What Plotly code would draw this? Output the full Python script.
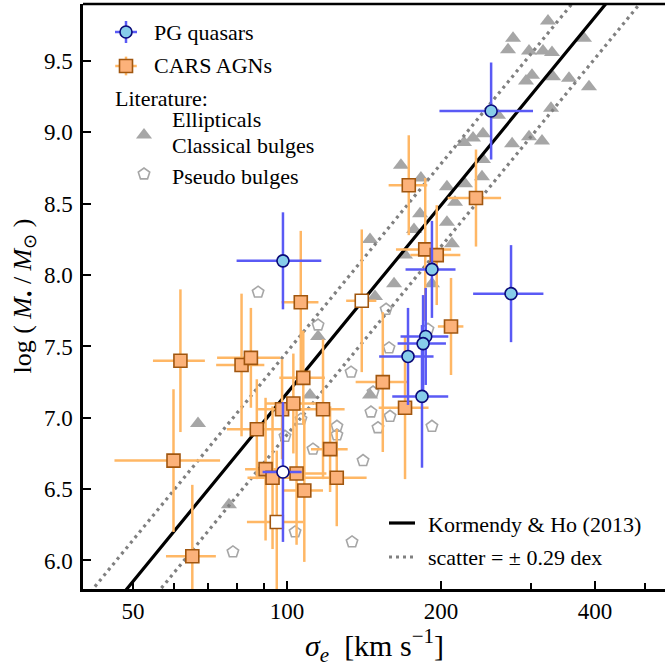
import numpy as np
import plotly.graph_objects as go

# ---------------- data ----------------
# PG quasars
pg_sigma = [250.6, 98.2, 274.1, 192.0, 186.7, 184.5, 172.4, 183.6, 98.2]
pg_sigma_err = [52, 18.5, 43, 21.5, 20, 20, 21, 23, 8.6]
pg_logm = [9.15, 8.10, 7.87, 8.04, 7.57, 7.52, 7.43, 7.15, 6.62]
pg_logm_err = [0.34, 0.34, 0.34, 0.34, 0.34, 0.34, 0.34, 0.50, 0.49]
pg_open = [False, False, False, False, False, False, False, False, True]

# CARS AGNs
cars_sigma = [61.9, 81.5, 85.0, 87.3, 60.0, 65.3, 90.8, 93.7, 97.8, 102.9, 107.6, 117.6, 121.4,
              104.4, 108.1, 125.1, 106.4, 153.9, 170.1, 209.2, 186.3, 196.2, 173.0, 234.1, 95.5, 140.0]
cars_sigma_err = [7.2, 8.8, 12, 11, 14, 7.3, 8, 10, 10, 12, 11, 12, 10,
                  15, 9.5, 18, 8.8, 17.7, 19, 12, 23, 22, 15, 28, 12, 9.5]
cars_logm = [7.40, 7.37, 7.42, 6.92, 6.70, 6.03, 6.64, 6.58, 7.06, 7.10, 7.28, 7.06, 6.78,
             6.61, 6.49, 6.58, 7.81, 7.25, 7.07, 7.64, 8.18, 8.14, 8.63, 8.54, 6.27, 7.82]
cars_logm_err = [0.5, 0.5, 0.35, 0.35, 0.5, 0.5, 0.5, 0.5, 0.35, 0.35, 0.33, 0.49, 0.3,
                 0.5, 0.5, 0.34, 0.5, 0.49, 0.5, 0.34, 0.5, 0.35, 0.35, 0.34, 0.5, 0.5]
cars_open = [False] * 24 + [True, True]

# Literature: ellipticals + classical bulges
ell_sigma = [323.7, 380.6, 276.6, 270.4, 297.2, 316.5, 329.6, 301.2, 293.2, 331.1, 355.8, 389.3,
             328.1, 258.5, 241.6, 231.0, 221.8, 275.4, 297.2, 315.1, 241.6, 240.5, 167.0, 182.7,
             205.4, 222.8, 213.0, 182.0, 205.4, 177.1, 210.1, 145.3, 170.1, 161.9, 148.6, 192.0,
             115.0, 110.9, 145.3, 67.0, 77.0]
ell_logm = [9.78, 9.66, 9.66, 9.58, 9.57, 9.57, 9.56, 9.40, 9.36, 9.39, 9.38, 9.32,
            9.17, 9.12, 8.99, 8.96, 8.93, 8.92, 8.97, 8.94, 8.81, 8.69, 8.77, 8.68,
            8.62, 8.64, 8.51, 8.43, 8.37, 8.32, 8.22, 8.25, 8.14, 7.94, 7.85, 7.94,
            7.57, 7.16, 7.16, 6.96, 6.39]

# Literature: pseudo bulges
pseudo_sigma = [87.8, 156.2, 115.0, 158.3, 133.4, 147.3, 145.9, 159.0, 150.6, 192.0, 125.2,
                125.2, 99.1, 106.5, 112.4, 140.8, 103.7, 134.0, 78.4, 188.6]
pseudo_logm = [7.88, 7.76, 7.65, 7.49, 7.32, 7.18, 7.04, 7.01, 6.93, 6.94, 6.94,
               6.88, 6.87, 6.99, 6.78, 6.70, 6.20, 6.13, 6.06, 7.62]

# Kormendy & Ho (2013) relation
kh_norm = 8.49
kh_slope = 4.38
kh_scatter = 0.29

x_ticks = [50, 100, 200, 400]
x_minor_ticks = [60, 70, 80, 90, 300, 500]
y_ticks = [6.0, 6.5, 7.0, 7.5, 8.0, 8.5, 9.0, 9.5]

# ---------------- styles ----------------
FONT = "Liberation Serif"
PG_ERR = "#5a5af5"
PG_FILL = "#87cdea"
PG_EDGE = "#0a0a78"
CARS_ERR = "#ffb765"
CARS_FILL = "#fcb27a"
CARS_EDGE = "#a0560f"
LIT = "#a6a6a6"

fig = go.Figure()

# literature
fig.add_trace(go.Scatter(x=ell_sigma, y=ell_logm, mode="markers",
                         marker=dict(symbol="triangle-up", size=14, color=LIT, line=dict(width=0))))
fig.add_trace(go.Scatter(x=pseudo_sigma, y=pseudo_logm, mode="markers",
                         marker=dict(symbol="pentagon-open", size=12, color=LIT, line=dict(width=1.6))))

# relation lines
s_line = np.logspace(np.log10(30), np.log10(700), 200)
m_line = kh_norm + kh_slope * np.log10(s_line / 200.0)
fig.add_trace(go.Scatter(x=s_line, y=m_line + kh_scatter, mode="lines",
                         line=dict(color="#808080", width=3.2, dash="3px,4px")))
fig.add_trace(go.Scatter(x=s_line, y=m_line - kh_scatter, mode="lines",
                         line=dict(color="#808080", width=3.2, dash="3px,4px")))
fig.add_trace(go.Scatter(x=s_line, y=m_line, mode="lines", line=dict(color="black", width=3.2)))

# CARS
fig.add_trace(go.Scatter(
    x=cars_sigma, y=cars_logm, mode="markers",
    error_x=dict(type="data", array=cars_sigma_err, color=CARS_ERR, thickness=2.5, width=0),
    error_y=dict(type="data", array=cars_logm_err, color=CARS_ERR, thickness=2.5, width=0),
    marker=dict(symbol="square", size=13,
                color=["white" if o else CARS_FILL for o in cars_open],
                line=dict(color=CARS_EDGE, width=1.6))))

# PG
fig.add_trace(go.Scatter(
    x=pg_sigma, y=pg_logm, mode="markers",
    error_x=dict(type="data", array=pg_sigma_err, color=PG_ERR, thickness=2.5, width=0),
    error_y=dict(type="data", array=pg_logm_err, color=PG_ERR, thickness=2.5, width=0),
    marker=dict(symbol="circle", size=12,
                color=["white" if o else PG_FILL for o in pg_open],
                line=dict(color=PG_EDGE, width=1.6))))

# ---------------- legend glyphs (overlay axes in paper-fraction units) ----------------
def px2paper(px, py):
    return (px - 83) / 582.0, (589 - py) / 585.0

gx, gy = px2paper(126, 32)
fig.add_trace(go.Scatter(x=[gx], y=[gy], xaxis="x2", yaxis="y2", mode="markers",
                         error_x=dict(type="constant", value=0.0189, color=PG_ERR, thickness=2.5, width=0),
                         error_y=dict(type="constant", value=0.0188, color=PG_ERR, thickness=2.5, width=0),
                         marker=dict(symbol="circle", size=12, color=PG_FILL, line=dict(color=PG_EDGE, width=1.6))))
gx, gy = px2paper(126, 66)
fig.add_trace(go.Scatter(x=[gx], y=[gy], xaxis="x2", yaxis="y2", mode="markers",
                         error_x=dict(type="constant", value=0.0185, color=CARS_ERR, thickness=2.5, width=0),
                         error_y=dict(type="constant", value=0.0160, color=CARS_ERR, thickness=2.5, width=0),
                         marker=dict(symbol="square", size=13, color=CARS_FILL, line=dict(color=CARS_EDGE, width=1.6))))
gx, gy = px2paper(144, 135)
fig.add_trace(go.Scatter(x=[gx], y=[gy], xaxis="x2", yaxis="y2", mode="markers",
                         marker=dict(symbol="triangle-up", size=14, color=LIT)))
gx, gy = px2paper(144, 174)
fig.add_trace(go.Scatter(x=[gx], y=[gy], xaxis="x2", yaxis="y2", mode="markers",
                         marker=dict(symbol="pentagon-open", size=12, color=LIT, line=dict(width=1.6))))
x0, yk = px2paper(389, 523)
x1, _ = px2paper(415, 523)
fig.add_trace(go.Scatter(x=[x0, x1], y=[yk, yk], xaxis="x2", yaxis="y2", mode="lines",
                         line=dict(color="black", width=3.2)))
_, ys = px2paper(389, 557)
fig.add_trace(go.Scatter(x=[x0, x1], y=[ys, ys], xaxis="x2", yaxis="y2", mode="lines",
                         line=dict(color="#808080", width=3.2, dash="3px,4px")))

annotations = []
def label(text, px, py, size=22):
    x, y = px2paper(px, py)
    annotations.append(dict(text=text, x=x, y=y, xref="paper", yref="paper", xanchor="left",
                            yanchor="middle", showarrow=False,
                            font=dict(family=FONT, size=size, color="black")))

label("PG quasars", 152, 32)
label("CARS AGNs", 152, 66)
label("Literature:", 113, 99)
label("Ellipticals", 170, 120)
label("Classical bulges", 170, 145)
label("Pseudo bulges", 170, 177)
label("Kormendy &amp; Ho (2013)", 426, 524)
label("scatter = ± 0.29 dex", 426, 557)

# axis titles
annotations.append(dict(text="<i>σ</i><sub><i>e</i></sub>  [km s<sup>−1</sup>]",
                        x=0.5, y=-0.097, xref="paper", yref="paper", xanchor="center", yanchor="middle",
                        showarrow=False, font=dict(family=FONT, size=30, color="black")))
annotations.append(dict(text="log ( <i>M</i><sub>•</sub> / <i>M</i><sub>⊙</sub> )",
                        x=-0.103, y=0.5, xref="paper", yref="paper", xanchor="center", yanchor="middle",
                        textangle=-90, showarrow=False, font=dict(family=FONT, size=26, color="black")))

x_lo = 2 + (83 - 287) / 511.6
x_hi = 2 + (665 - 287) / 511.6

fig.update_layout(
    width=665, height=666,
    margin=dict(l=83, r=0, t=4, b=77),
    paper_bgcolor="white", plot_bgcolor="white",
    showlegend=False,
    annotations=annotations,
    shapes=[dict(type="line", xref="paper", yref="paper", x0=0, x1=1, y0=1, y1=1,
                 line=dict(color="black", width=2.5))],
    xaxis=dict(type="log", range=[x_lo, x_hi],
               tickmode="array", tickvals=x_ticks, ticktext=[str(v) for v in x_ticks],
               ticks="inside", ticklen=8, tickwidth=1.5, tickcolor="black",
               showline=True, linecolor="black", linewidth=2.5, mirror=False,
               showgrid=False, zeroline=False,
               minor=dict(tickmode="array", tickvals=x_minor_ticks, ticks="inside", ticklen=6,
                          tickwidth=1.5, tickcolor="black", showgrid=False),
               tickfont=dict(family=FONT, size=23, color="black"), ticklabelstandoff=0),
    yaxis=dict(range=[5.8, 9.9], tickmode="array", tickvals=y_ticks,
               ticktext=[f"{v:.1f}" for v in y_ticks],
               ticks="inside", ticklen=8, tickwidth=1.5, tickcolor="black",
               showline=True, linecolor="black", linewidth=2.5, mirror=False,
               showgrid=False, zeroline=False,
               tickfont=dict(family=FONT, size=23, color="black"), ticklabelstandoff=3),
    xaxis2=dict(overlaying="x", anchor="y2", range=[0, 1], visible=False, fixedrange=True),
    yaxis2=dict(overlaying="y", anchor="x2", range=[0, 1], visible=False, fixedrange=True),
)

fig.write_html("out.html")
